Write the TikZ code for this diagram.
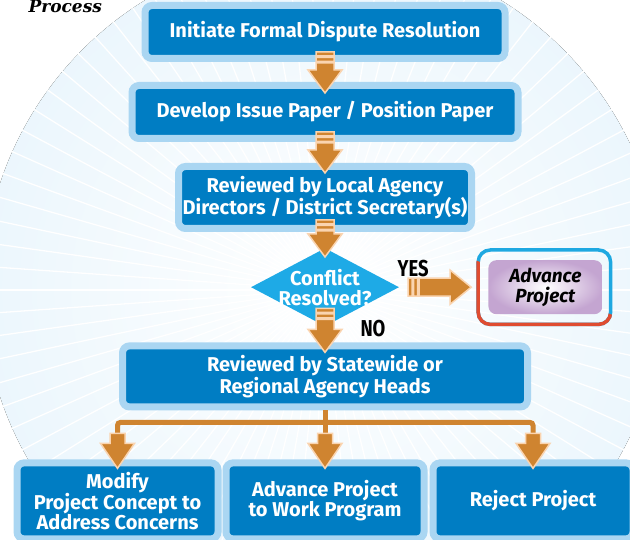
\documentclass[tikz,border=0pt]{standalone}
\usepackage{fontspec}
\setmainfont{Fira Sans}
\newfontfamily\titlefont{DejaVu Serif}
\usetikzlibrary{shapes.geometric}
\usetikzlibrary{positioning}
\usetikzlibrary{calc}

\definecolor{boxblue}{RGB}{0,125,195}
\definecolor{rimblue}{RGB}{170,214,242}
\definecolor{skyblue}{RGB}{30,170,230}
\definecolor{bgblue}{RGB}{208,234,249}
\definecolor{flowor}{RGB}{207,132,48}
\definecolor{peach}{RGB}{250,212,176}
\definecolor{ringblue}{RGB}{30,168,225}
\definecolor{ringred}{RGB}{224,76,48}
\definecolor{lilac}{RGB}{196,165,209}

\pgfdeclareradialshading{burst}{\pgfpoint{0bp}{0bp}}{color(0bp)=(white); color(60bp)=(bgblue); color(230bp)=(bgblue); color(330bp)=(white); color(340bp)=(white)}

\begin{document}
\begin{tikzpicture}[x=1pt, y=-1pt,
  stage/.style={rectangle, rounded corners=7pt, fill=boxblue, draw=rimblue, line width=7pt, text=white, align=center, inner sep=2pt, font=\fontsize{20}{20}\selectfont\bfseries},
  decision/.style={diamond, aspect=1.9, inner sep=-12pt, fill=skyblue, minimum width=148pt, minimum height=78pt, text=white, align=center, font=\fontsize{20}{20}\selectfont\bfseries},
  goal/.style={rectangle, rounded corners=8pt, inner color=white, outer color=lilac, minimum width=114pt, minimum height=54pt, align=center, text=black, font=\fontsize{19}{20}\selectfont\bfseries\itshape},
  tag/.style={text=black, inner sep=1pt, font=\fontsize{23}{24}\selectfont\bfseries},
  feed/.style={draw=flowor, line width=5pt, rounded corners=3pt},
  flow/.style={fill=flowor, draw=peach, line width=1.5pt,
    to path={let \p1=(\tikztostart), \p2=(\tikztotarget) in
      (\x1-9pt,\y1) rectangle (\x1+9pt,\y1-4pt)
      (\x1-9pt,\y1-5.5pt) rectangle (\x1+9pt,\y1-9.5pt)
      (\x1-9pt,\y1-11pt) -- (\x1+9pt,\y1-11pt) -- (\x1+9pt,\y2+23pt) -- (\x1+17pt,\y2+23pt)
      -- (\x1,\y2) -- (\x1-17pt,\y2+23pt) -- (\x1-9pt,\y2+23pt) -- cycle}},
  flowright/.style={fill=flowor, draw=peach, line width=1.5pt,
    to path={let \p1=(\tikztostart), \p2=(\tikztotarget) in
      (\x1,\y1-9pt) rectangle (\x1+4pt,\y1+9pt)
      (\x1+5.5pt,\y1-9pt) rectangle (\x1+9.5pt,\y1+9pt)
      (\x1+11pt,\y1+9pt) -- (\x2-21pt,\y1+9pt) -- (\x2-21pt,\y1+17pt) -- (\x2,\y1)
      -- (\x2-21pt,\y1-17pt) -- (\x2-21pt,\y1-9pt) -- (\x1+11pt,\y1-9pt) -- cycle}},
  drop/.style={fill=flowor, draw=peach, line width=1.5pt,
    to path={let \p1=(\tikztostart), \p2=(\tikztotarget) in
      (\x1-7.5pt,\y1) -- (\x1+7.5pt,\y1) -- (\x1+7.5pt,\y2+25pt) -- (\x1+17pt,\y2+25pt)
      -- (\x1,\y2) -- (\x1-17pt,\y2+25pt) -- (\x1-7.5pt,\y2+25pt) -- cycle}}]
  \useasboundingbox (0,0) rectangle (630,540);
  \clip (0,0) rectangle (630,540);

  % sunburst behind the chart
  \coordinate (hub) at (323,290);
  \fill[shading=burst] (hub) circle (340);
  \foreach \a in {0,4,...,356}
    \draw[white, line width=1.3pt] (hub) ++(\a:22) -- ++(\a:330);

  \node[font=\titlefont\fontsize{17}{19}\selectfont\bfseries\itshape, anchor=base west] (title) at (25,13) {Process};

  \node[stage, minimum width=360pt, minimum height=53pt] (start) at (325,32) {Initiate Formal Dispute Resolution};
  \node[stage, minimum width=386pt, minimum height=53pt] (paper) [below=20pt of start] {Develop Issue Paper / Position Paper};
  \node[stage, minimum width=293pt, minimum height=62pt] (local) [below=21pt of paper] {Reviewed by Local Agency\\Directors / District Secretary(s)};
  \node[decision] (conflict) [below=16pt of local] {Conflict\\Resolved?};
  \node[stage, minimum width=405pt, minimum height=61pt] (state) [below=16pt of conflict] {Reviewed by Statewide or\\Regional Agency Heads};
  \node[stage, minimum width=198pt, minimum height=76pt] (work) [below=49pt of state] {Advance Project\\to Work Program};
  \node[stage, minimum width=201pt, minimum height=76pt] (modify) [left=1pt of work] {Modify\\Project Concept to\\Address Concerns};
  \node[stage, minimum width=200pt, minimum height=76pt] (reject) [right=2pt of work] {Reject Project};

  \node[goal] (advance) [right=89pt of conflict] {Advance\\Project};
%  two-coloured rim round the goal
  \draw[ringblue, line width=3.5pt, rounded corners=12pt] ([shift={(-10pt,10pt)}]advance.north west) rectangle ([shift={(8pt,-10pt)}]advance.south east);
  \begin{scope}
    \clip (470,258) -- (620,318) -- (620,340) -- (470,340) -- cycle;
    \draw[ringred, line width=3.5pt, rounded corners=12pt] ([shift={(-10pt,10pt)}]advance.north west) rectangle ([shift={(8pt,-10pt)}]advance.south east);
  \end{scope}

  \node[tag] (yes) at ([xshift=14pt,yshift=19pt]conflict.east) {\scalebox{0.8}[1]{YES}};
  \node[tag] (no) at ([xshift=48pt,yshift=-2pt]conflict.south) {\scalebox{0.8}[1]{NO}};

  % fork to the three outcomes
  \coordinate (fork) at ([yshift=-12pt]state.south);
  \coordinate (forkL) at (fork -| modify.north);
  \coordinate (forkR) at (fork -| reject.north);
  \draw[feed] (state.south) -- ([yshift=-14pt]fork);
  \draw[feed] ([yshift=-14pt]forkL) -- (forkL) -- (forkR) -- ([yshift=-14pt]forkR);

  \path
    ([yshift=10pt]start.south) edge[flow] ([yshift=-11pt]paper.north)
    ([yshift=10pt]paper.south) edge[flow] ([yshift=-10pt]local.north)
    ([yshift=12pt]local.south) edge[flow] ([yshift=-9pt]conflict.north)
    ([yshift=18pt]conflict.south) edge[flow] ([yshift=-10pt]state.north)
    ([xshift=9pt]conflict.east) edge[flowright] ([xshift=-17pt]advance.west)
    ([yshift=-11pt]forkL) edge[drop] ([yshift=-9pt]modify.north)
    ([yshift=-11pt]fork) edge[drop] ([yshift=-9pt]work.north)
    ([yshift=-11pt]forkR) edge[drop] ([yshift=-9pt]reject.north);
\end{tikzpicture}
\end{document}
